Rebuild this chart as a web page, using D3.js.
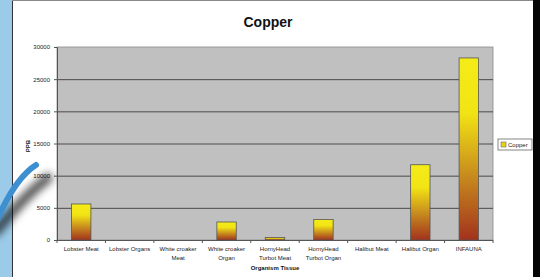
<!DOCTYPE html>
<html>
<head>
<meta charset="utf-8">
<script src="https://cdn.jsdelivr.net/npm/d3@7"></script>
<style>
  body { margin: 0; background: #fff; }
  svg { display: block; font-family: "Liberation Sans", Arial, sans-serif; }
</style>
</head>
<body>
<div id="chart"></div>
<script>
var width = 540;
var height = 277;

// data
var categories = ["Lobster Meat", "Lobster Organs", "White croaker Meat", "White croaker Organ",
  "HornyHead Turbot Meat", "HornyHead Turbot Organ", "Halibut Meat", "Halibut Organ", "INFAUNA"];
var labelLines = [["Lobster Meat"], ["Lobster Organs"], ["White croaker", "Meat"], ["White croaker", "Organ"],
  ["HornyHead", "Turbot Meat"], ["HornyHead", "Turbot Organ"], ["Halibut Meat"], ["Halibut Organ"], ["INFAUNA"]];
var copper = [5600, 0, 0, 2800, 400, 3200, 0, 11700, 28300];
var yTicks = [0, 5000, 10000, 15000, 20000, 25000, 30000];

var plot = {left: 57, right: 493, top: 47, bottom: 240};

var svg = d3.select("#chart")
  .append("svg")
  .attr("width", width)
  .attr("height", height);

var defs = svg.append("defs");
var grad = defs.append("linearGradient")
  .attr("id", "barGrad")
  .attr("x1", 0).attr("y1", 0).attr("x2", 0).attr("y2", 1);
grad.append("stop").attr("offset", "0%").attr("stop-color", "#f4ec18");
grad.append("stop").attr("offset", "30%").attr("stop-color", "#f2e414");
grad.append("stop").attr("offset", "65%").attr("stop-color", "#c78a1e");
grad.append("stop").attr("offset", "100%").attr("stop-color", "#a2321c");

defs.append("filter").attr("id", "blur")
  .attr("x", "-50%").attr("y", "-50%").attr("width", "200%").attr("height", "200%")
  .append("feGaussianBlur").attr("stdDeviation", 4);

// slide frame
svg.append("rect").attr("x", 0).attr("y", 0).attr("width", 12).attr("height", height).attr("fill", "#9ccbe9");
svg.append("rect").attr("x", 533).attr("y", 0).attr("width", 7).attr("height", height).attr("fill", "#050505");
svg.append("line").attr("x1", 12.5).attr("x2", 12.5).attr("y1", 0).attr("y2", height).attr("stroke", "#333").attr("stroke-width", 1);
svg.append("line").attr("x1", 12).attr("x2", 533).attr("y1", 0.5).attr("y2", 0.5).attr("stroke", "#888");

var x = d3.scaleBand()
  .domain(categories)
  .range([plot.left, plot.right])
  .paddingInner(0.6)
  .paddingOuter(0.3);

var y = d3.scaleLinear()
  .domain([0, 30000])
  .range([plot.bottom, plot.top]);

// plot background
svg.append("rect")
  .attr("x", plot.left).attr("y", plot.top)
  .attr("width", plot.right - plot.left).attr("height", plot.bottom - plot.top)
  .attr("fill", "#c0c0c0")
  .attr("stroke", "#8a8a8a").attr("stroke-width", 0.8);

// gridlines
svg.append("g")
  .selectAll("line")
  .data(yTicks.slice(1, -1))
  .enter().append("line")
  .attr("x1", plot.left).attr("x2", plot.right)
  .attr("y1", function(d){ return y(d) + 0.5; })
  .attr("y2", function(d){ return y(d) + 0.5; })
  .attr("stroke", "#4a4a4a").attr("stroke-width", 1);

// y axis
var yAxis = svg.append("g")
  .attr("transform", "translate(" + plot.left + ",0)")
  .call(d3.axisLeft(y).tickValues(yTicks).tickSize(3).tickFormat(d3.format("d")));
yAxis.select(".domain").attr("stroke", "#555");
yAxis.selectAll("line").attr("stroke", "#555");
yAxis.selectAll("text").attr("font-size", 6).attr("fill", "#222").attr("dx", -1);

// x axis line and category ticks
svg.append("line")
  .attr("x1", plot.left).attr("x2", plot.right)
  .attr("y1", plot.bottom + 0.5).attr("y2", plot.bottom + 0.5)
  .attr("stroke", "#555");
var step = (plot.right - plot.left) / categories.length;
svg.append("g").selectAll("line")
  .data(d3.range(categories.length + 1))
  .enter().append("line")
  .attr("x1", function(i){ return plot.left + i * step; })
  .attr("x2", function(i){ return plot.left + i * step; })
  .attr("y1", plot.bottom).attr("y2", plot.bottom + 3)
  .attr("stroke", "#555");

// bars
svg.append("g")
  .selectAll("rect")
  .data(copper)
  .enter().append("rect")
  .attr("x", function(d, i){ return x(categories[i]); })
  .attr("y", function(d){ return y(d); })
  .attr("width", x.bandwidth())
  .attr("height", function(d){ return y(0) - y(d); })
  .attr("fill", "url(#barGrad)")
  .attr("stroke", function(d){ return d > 0 ? "#555" : "none"; })
  .attr("stroke-width", 0.8);

// category labels
var labels = svg.append("g").selectAll("text")
  .data(labelLines)
  .enter().append("text")
  .attr("x", function(d, i){ return x(categories[i]) + x.bandwidth() / 2; })
  .attr("y", 251)
  .attr("text-anchor", "middle")
  .attr("font-size", 6)
  .attr("fill", "#222");
labels.selectAll("tspan")
  .data(function(d){ return d; })
  .enter().append("tspan")
  .attr("x", function(){ return d3.select(this.parentNode).attr("x"); })
  .attr("dy", function(d, j){ return j === 0 ? 0 : 8.5; })
  .text(function(d){ return d; });

// titles
svg.append("text")
  .attr("x", 268).attr("y", 27)
  .attr("text-anchor", "middle")
  .attr("font-size", 14)
  .attr("font-weight", "bold")
  .attr("fill", "#111")
  .text("Copper");

svg.append("text")
  .attr("x", (plot.left + plot.right) / 2).attr("y", 270)
  .attr("text-anchor", "middle")
  .attr("font-size", 6)
  .attr("font-weight", "bold")
  .attr("fill", "#111")
  .text("Organism Tissue");

svg.append("text")
  .attr("transform", "translate(30,146) rotate(-90)")
  .attr("text-anchor", "middle")
  .attr("font-size", 6)
  .attr("font-weight", "bold")
  .attr("fill", "#111")
  .text("PPB");

// legend
var lg = svg.append("g").attr("transform", "translate(498,139)");
lg.append("rect").attr("width", 34).attr("height", 11)
  .attr("fill", "#fff").attr("stroke", "#666").attr("stroke-width", 0.8);
lg.append("rect").attr("x", 3).attr("y", 3).attr("width", 5).attr("height", 5)
  .attr("fill", "#e8d214").attr("stroke", "#555").attr("stroke-width", 0.5);
lg.append("text").attr("x", 10).attr("y", 8).attr("font-size", 6).attr("fill", "#222").text("Copper");

// brush stroke decoration on the left
svg.append("path")
  .attr("d", "M-5,232 C10,215 25,195 48,178")
  .attr("fill", "none").attr("stroke", "#000").attr("stroke-opacity", 0.75)
  .attr("stroke-width", 9).attr("stroke-linecap", "round")
  .attr("filter", "url(#blur)");
svg.append("path")
  .attr("d", "M-3,220 C8,195 20,175 36,165")
  .attr("fill", "none").attr("stroke", "#3d8fd0")
  .attr("stroke-width", 6).attr("stroke-linecap", "round");
</script>
</body>
</html>
